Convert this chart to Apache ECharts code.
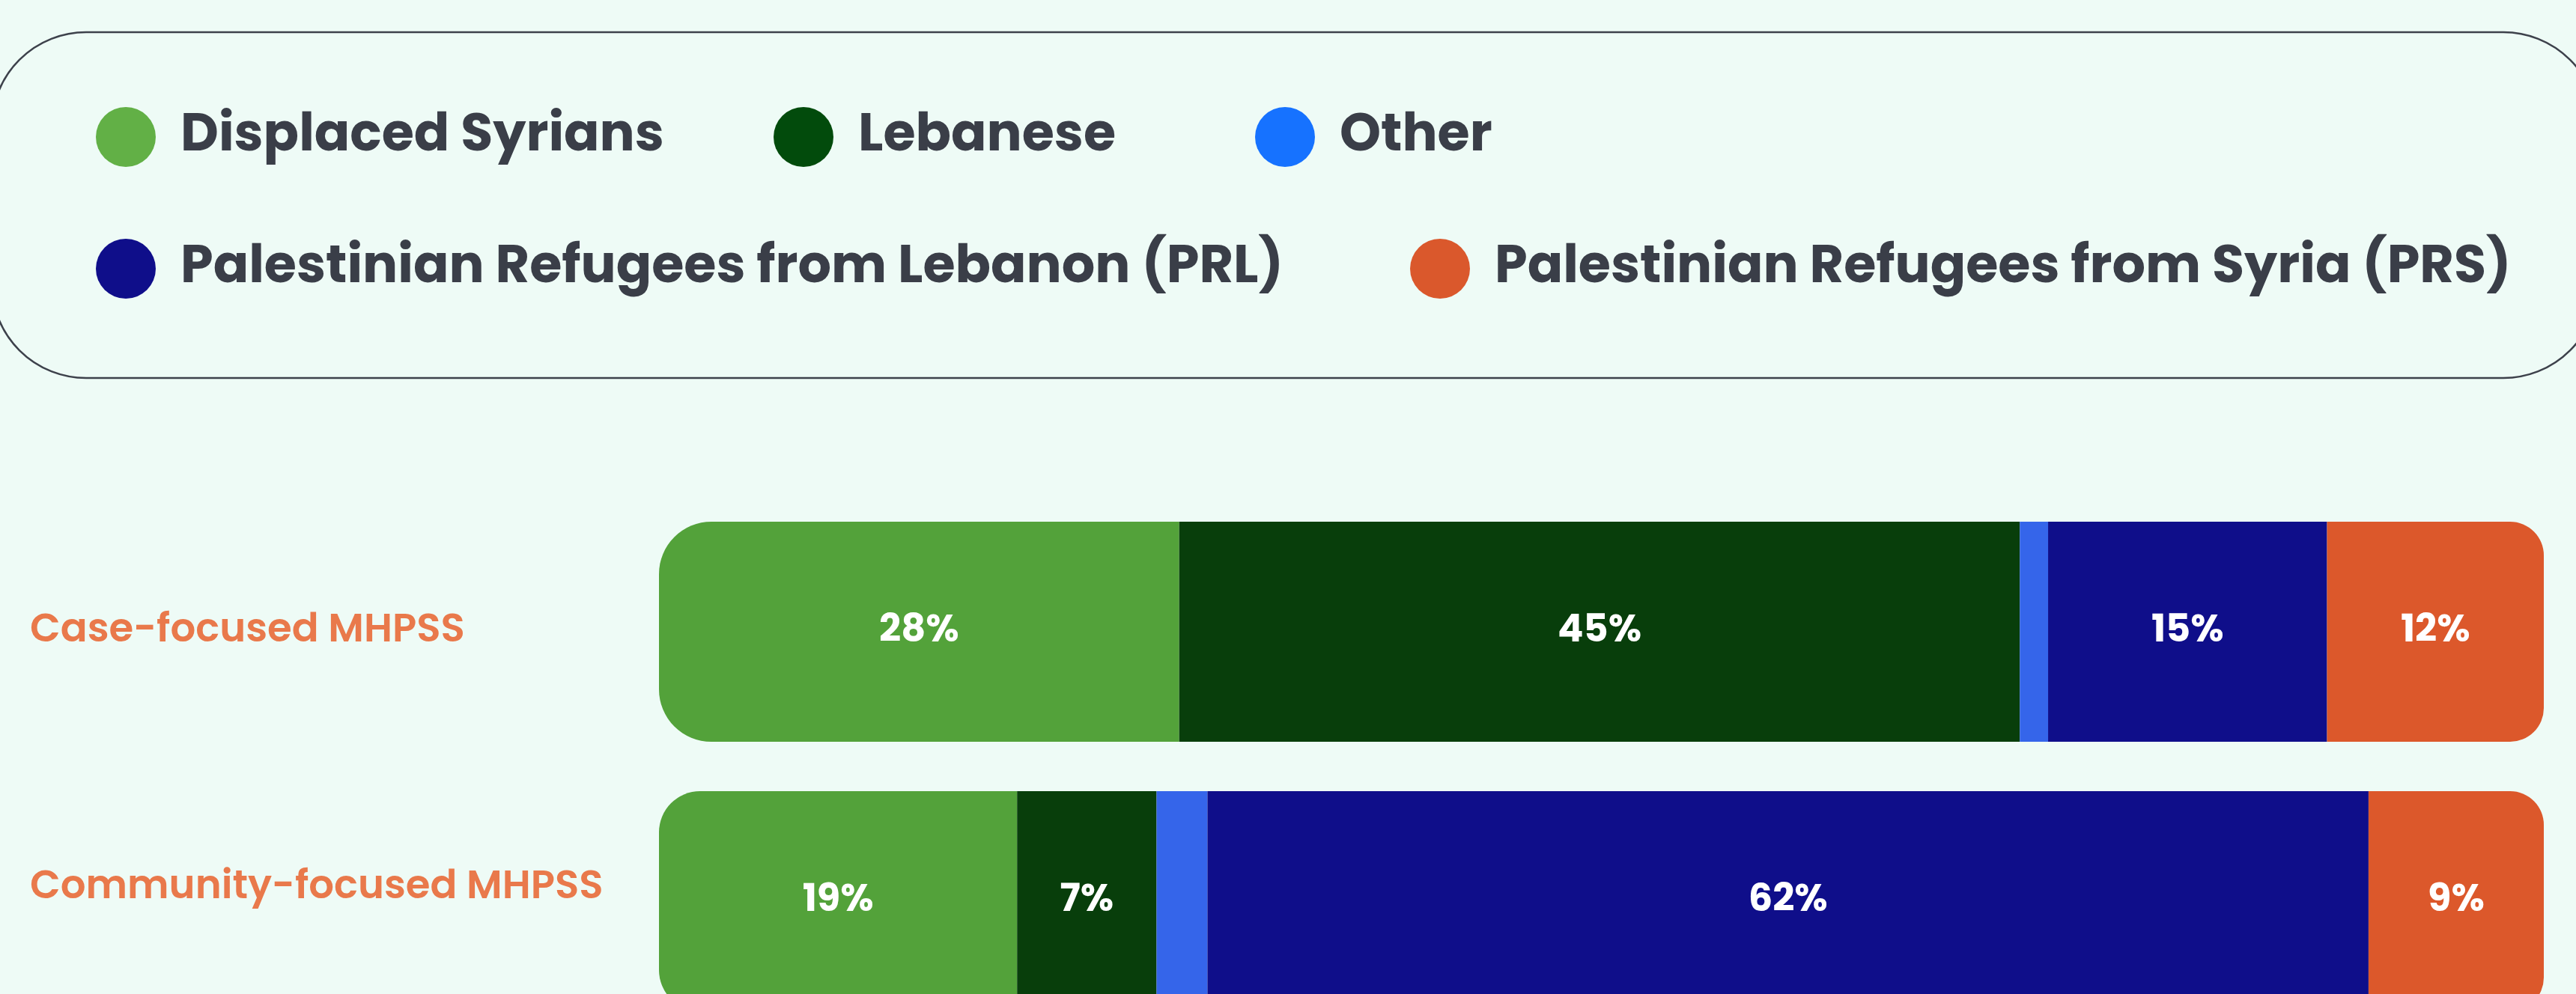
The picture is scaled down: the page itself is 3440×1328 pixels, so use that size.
<!DOCTYPE html>
<html>
<head>
<meta charset="utf-8">
<script src="https://cdn.jsdelivr.net/npm/echarts@6/dist/echarts.min.js"></script>
<style>
  html, body { margin: 0; padding: 0; background: #eefbf6; }
  #chart { width: 3440px; height: 1328px; }
</style>
</head>
<body>
<div id="chart"></div>
<script>
// categories (top to bottom)
var categories = ['Case-focused MHPSS', 'Community-focused MHPSS'];
var seriesNames = [
  'Displaced Syrians',
  'Lebanese',
  'Other',
  'Palestinian Refugees from Lebanon (PRL)',
  'Palestinian Refugees from Syria (PRS)'
];
// share in % per category
var displacedSyrians = [27.6, 19.0];
var lebanese = [44.6, 7.4];
var other = [1.5, 2.7];
var prl = [14.8, 61.6];
var prs = [11.5, 9.3];

var fontFamily = 'Poppins, Inter, "Open Sans", sans-serif';
var barColors = ['#53a23a', '#083e0b', '#3565ea', '#0f0e8a', '#dc582b'];
var legendColors = ['#62b046', '#024b0c', '#1672ff', '#0f0e8a', '#da582c'];

var chart = echarts.init(document.getElementById('chart'));

// one legend per item so each dot sits where it does in the original
var legendPos = [
  { left: 128, top: 143 },
  { left: 1033, top: 143 },
  { left: 1676, top: 143 },
  { left: 128, top: 319 },
  { left: 1883, top: 319 }
];
var legends = seriesNames.map(function (name, i) {
  return {
    left: legendPos[i].left,
    top: legendPos[i].top,
    padding: 0,
    icon: 'circle',
    itemWidth: 80,
    itemHeight: 80,
    selectedMode: false,
    data: [{ name: name, itemStyle: { color: legendColors[i] } }],
    textStyle: {
      fontFamily: fontFamily,
      fontSize: 70,
      fontWeight: 700,
      color: '#3a3e48',
      padding: [0, 0, 0, 28]
    }
  };
});

var values = [displacedSyrians, lebanese, other, prl, prs];
var leftRadius = [70, 55];

var series = seriesNames.map(function (name, i) {
  return {
    name: name,
    type: 'bar',
    stack: 'total',
    barWidth: 294,
    color: barColors[i],
    label: {
      show: i !== 2,
      position: 'inside',
      color: '#ffffff',
      fontFamily: fontFamily,
      fontSize: 51,
      fontWeight: 700,
      formatter: function (p) { return Math.round(p.value) + '%'; }
    },
    data: values[i].map(function (v, j) {
      var r = 0;
      if (i === 0) r = [leftRadius[j], 0, 0, leftRadius[j]];
      if (i === 4) r = [0, 45, 45, 0];
      return { value: v, itemStyle: { borderRadius: r } };
    })
  };
});

var option = {
  backgroundColor: '#eefbf6',
  animation: false,
  graphic: [{
    type: 'rect',
    z: -1,
    shape: { x: -11, y: 43, width: 3480, height: 462, r: 126 },
    style: { fill: null, stroke: '#3d414b', lineWidth: 2.5 }
  }],
  legend: legends,
  grid: {
    left: 880, right: 43, top: 664, height: 720,
    containLabel: false,
    outerBoundsMode: 'none'
  },
  xAxis: {
    type: 'value',
    min: 0,
    max: 100,
    show: false
  },
  yAxis: {
    type: 'category',
    inverse: true,
    data: categories,
    axisLine: { show: false },
    axisTick: { show: false },
    axisLabel: {
      margin: 840,
      align: 'left',
      fontFamily: fontFamily,
      fontSize: 53,
      fontWeight: 600,
      color: '#e9794b',
      // second label sits a bit above the bar's centre in the original
      formatter: function (v, idx) {
        return idx === 1 ? '{up|' + v + '}' : v;
      },
      rich: {
        up: {
          fontFamily: fontFamily,
          fontSize: 53,
          fontWeight: 600,
          color: '#e9794b',
          padding: [0, 0, 34, 0]
        }
      }
    }
  },
  series: series
};

chart.setOption(option);
</script>
</body>
</html>
